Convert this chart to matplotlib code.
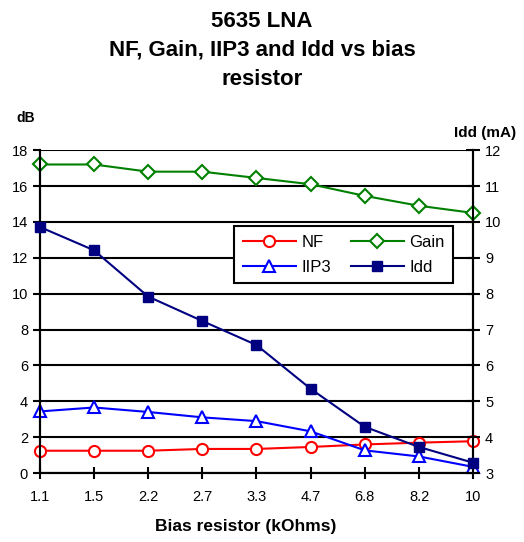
import matplotlib
matplotlib.use("Agg")
import matplotlib.pyplot as plt

plt.rcParams['font.family'] = ['Liberation Sans', 'DejaVu Sans']

resistors = ["1.1", "1.5", "2.2", "2.7", "3.3", "4.7", "6.8", "8.2", "10"]
nf = [1.25, 1.25, 1.25, 1.35, 1.35, 1.46, 1.6, 1.7, 1.78]
gain = [17.2, 17.2, 16.8, 16.8, 16.45, 16.1, 15.45, 14.9, 14.5]
iip3 = [3.44, 3.66, 3.41, 3.11, 2.9, 2.33, 1.27, 0.93, 0.35]
idd = [9.86, 9.21, 7.92, 7.24, 6.57, 5.35, 4.29, 3.73, 3.29]

x = list(range(len(resistors)))

fig = plt.figure(figsize=(5.24, 5.42), dpi=100)
ax = fig.add_axes([0.076, 0.127, 0.827, 0.596])
ax2 = ax.twinx()

l1, = ax.plot(x, nf, color="red", marker="o", mfc="white", mec="red", ms=8, mew=1.5, lw=1.5, label="NF", clip_on=False, zorder=3)
l2, = ax.plot(x, gain, color="green", marker="D", mfc="white", mec="green", ms=7.5, mew=1.5, lw=1.5, label="Gain", clip_on=False, zorder=3)
l3, = ax.plot(x, iip3, color="blue", marker="^", mfc="white", mec="blue", ms=9, mew=1.5, lw=1.5, label="IIP3", clip_on=False, zorder=3)
l4, = ax2.plot(x, idd, color="navy", marker="s", mfc="navy", mec="navy", ms=7.5, lw=1.5, label="Idd", clip_on=False, zorder=3)

ax.set_xlim(0, len(resistors) - 1)
ax.set_ylim(0, 18)
ax.set_yticks(range(0, 19, 2))
ax2.set_ylim(3, 12)
ax2.set_yticks(range(3, 13))
ax.set_xticks(x)
ax.set_xticklabels(resistors)
ax.yaxis.grid(True, color="black", lw=1.5)
ax.set_axisbelow(True)

for a in (ax, ax2):
    for s in a.spines.values():
        s.set_linewidth(1.5)
    a.spines["top"].set_visible(False)
ax.tick_params(axis="y", direction="out", length=5, width=1.5, labelsize=10.5)
ax.tick_params(axis="x", direction="inout", length=8, width=1.5, labelsize=10.5, pad=8)
ax2.tick_params(axis="y", direction="inout", length=10, width=1.5, labelsize=10.5)

# matplotlib fills legend column-wise, so order handles to read NF, Gain / IIP3, Idd
leg = ax.legend(handles=[l1, l3, l2, l4], ncol=2, loc="upper left",
                bbox_to_anchor=(0.43, 0.79), fontsize=12,
                frameon=True, fancybox=False, edgecolor="black", framealpha=1,
                handlelength=3.2, handletextpad=0.3, columnspacing=1.2,
                borderpad=0.5, labelspacing=0.6)
leg.get_frame().set_linewidth(1.5)

fig.text(0.5, 0.98, "5635 LNA\nNF, Gain, IIP3 and Idd vs bias\nresistor", ha="center", va="top",
         fontsize=16, fontweight="bold", linespacing=1.5)
fig.text(0.032, 0.782, "dB", fontsize=10, fontweight="bold", va="center")
fig.text(0.985, 0.755, "Idd (mA)", fontsize=11, fontweight="bold", ha="right", va="center")
fig.text(0.468, 0.028, "Bias resistor (kOhms)", ha="center", va="center", fontsize=12.5, fontweight="bold")

fig.savefig("out.png", dpi=100)
